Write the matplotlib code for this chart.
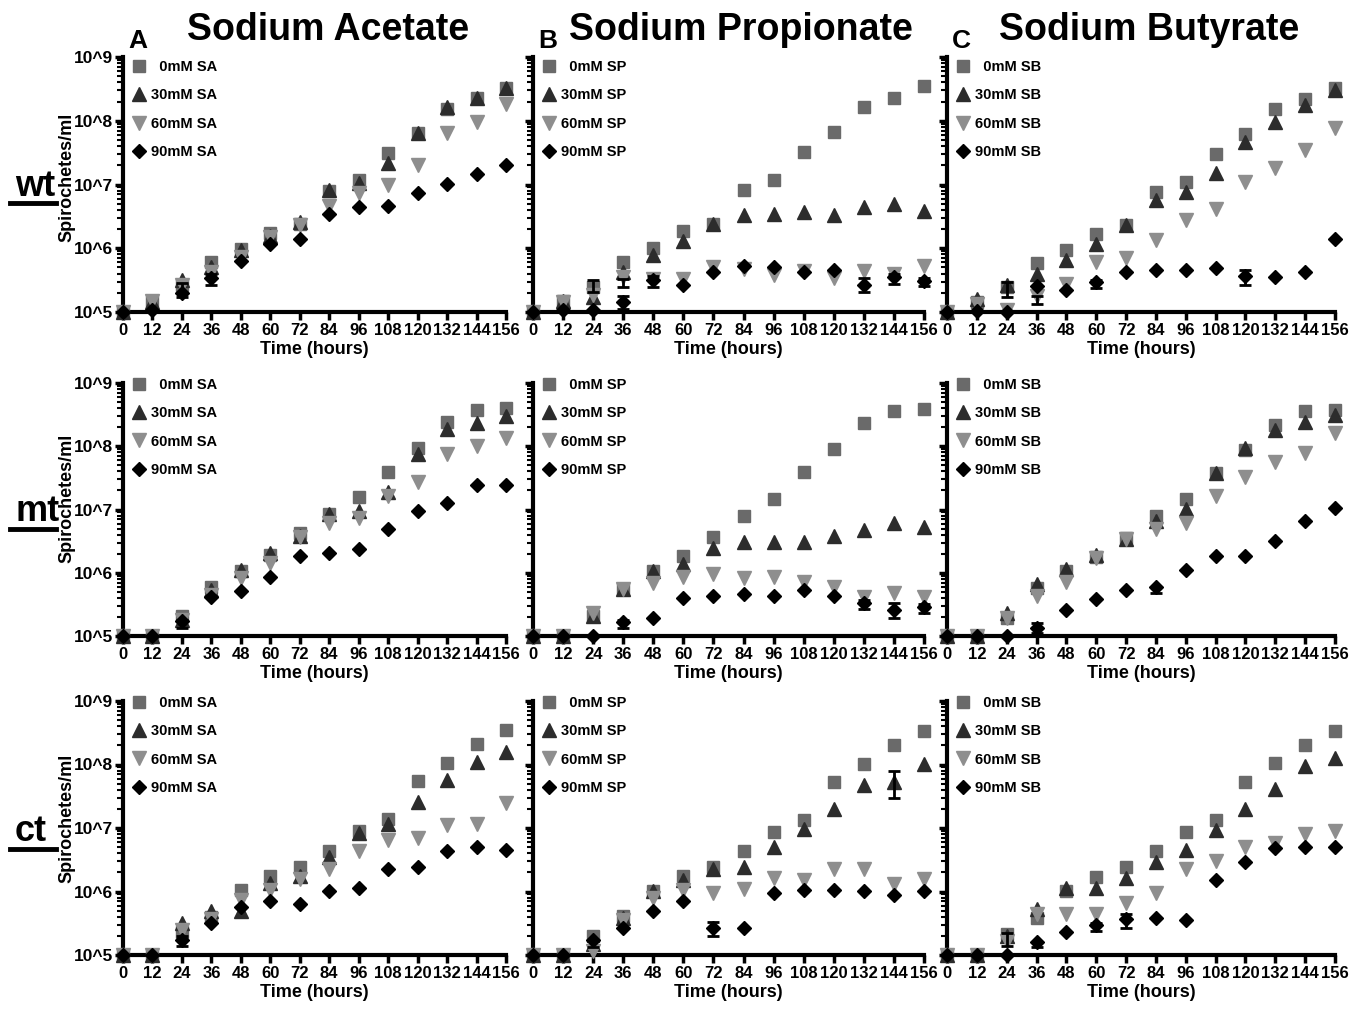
import matplotlib
matplotlib.use('Agg')
import numpy as np
import matplotlib.pyplot as plt
from matplotlib.ticker import LogLocator, NullFormatter
from matplotlib.lines import Line2D

plt.rcParams['font.family'] = ['Liberation Sans', 'DejaVu Sans']
plt.rcParams['font.weight'] = 'bold'

# time points (hours)
hours = [0, 12, 24, 36, 48, 60, 72, 84, 96, 108, 120, 132, 144, 156]
doses = ['  0mM', '30mM', '60mM', '90mM']
salts = ['SA', 'SP', 'SB']
titles = ['Sodium Acetate', 'Sodium Propionate', 'Sodium Butyrate']
strains = ['wt', 'mt', 'ct']
letters = ['A', 'B', 'C']
ytick_vals = [1e5, 1e6, 1e7, 1e8, 1e9]
ytick_labels = ['10^5', '10^6', '10^7', '10^8', '10^9']

# log10(spirochetes/ml), rows = 0, 30, 60, 90 mM
wt_SA = [
    [5.0, 5.16, 5.42, 5.78, 5.99, 6.24, 6.38, 6.90, 7.07, 7.49, 7.81, 8.19, 8.35, 8.52],
    [5.0, 5.16, 5.50, 5.71, 5.97, 6.20, 6.41, 6.91, 7.02, 7.33, 7.81, 8.21, 8.36, 8.52],
    [5.0, 5.18, 5.42, 5.63, 5.86, 6.18, 6.36, 6.67, 6.87, 7.00, 7.31, 7.81, 7.98, 8.26],
    [5.0, 5.03, 5.30, 5.53, 5.80, 6.06, 6.15, 6.54, 6.64, 6.67, 6.87, 7.01, 7.16, 7.30],
]
wt_SP = [
    [5.0, 5.18, 5.40, 5.79, 6.01, 6.27, 6.38, 6.91, 7.07, 7.51, 7.82, 8.22, 8.36, 8.54],
    [5.0, 5.18, 5.24, 5.63, 5.90, 6.11, 6.38, 6.52, 6.53, 6.57, 6.52, 6.64, 6.69, 6.58],
    [5.0, 5.16, 5.26, 5.55, 5.52, 5.52, 5.71, 5.68, 5.58, 5.65, 5.54, 5.65, 5.59, 5.72],
    [5.0, 5.03, 5.03, 5.16, 5.50, 5.43, 5.63, 5.72, 5.70, 5.63, 5.66, 5.43, 5.55, 5.49],
]
wt_SB = [
    [5.0, 5.16, 5.40, 5.77, 5.98, 6.23, 6.36, 6.88, 7.04, 7.48, 7.80, 8.19, 8.34, 8.51],
    [5.0, 5.21, 5.42, 5.60, 5.82, 6.07, 6.36, 6.75, 6.89, 7.18, 7.67, 7.98, 8.24, 8.48],
    [5.0, 5.13, 5.03, 5.25, 5.44, 5.78, 5.84, 6.13, 6.44, 6.61, 7.04, 7.26, 7.54, 7.88],
    [5.0, 5.02, 5.00, 5.41, 5.35, 5.47, 5.63, 5.66, 5.66, 5.69, 5.56, 5.55, 5.63, 6.14],
]
mt_SA = [
    [5.0, 5.0, 5.32, 5.77, 6.03, 6.28, 6.63, 6.93, 7.20, 7.60, 7.97, 8.38, 8.57, 8.60],
    [5.0, 5.0, 5.26, 5.73, 6.04, 6.31, 6.58, 6.93, 6.97, 7.27, 7.87, 8.27, 8.37, 8.48],
    [5.0, 5.0, 5.25, 5.65, 5.91, 6.15, 6.57, 6.78, 6.86, 7.21, 7.44, 7.88, 8.01, 8.13],
    [5.0, 5.0, 5.23, 5.61, 5.71, 5.94, 6.26, 6.31, 6.37, 6.69, 6.97, 7.10, 7.39, 7.39],
]
mt_SP = [
    [5.0, 5.0, 5.31, 5.75, 6.02, 6.26, 6.57, 6.90, 7.16, 7.59, 7.96, 8.36, 8.55, 8.59],
    [5.0, 5.0, 5.31, 5.75, 6.03, 6.14, 6.39, 6.49, 6.49, 6.49, 6.58, 6.68, 6.78, 6.73],
    [5.0, 5.0, 5.37, 5.74, 5.84, 5.93, 5.98, 5.91, 5.93, 5.86, 5.77, 5.62, 5.68, 5.62],
    [5.0, 5.0, 5.00, 5.22, 5.29, 5.60, 5.63, 5.66, 5.63, 5.72, 5.63, 5.52, 5.41, 5.46],
]
mt_SB = [
    [5.0, 5.0, 5.29, 5.76, 6.02, 6.25, 6.55, 6.89, 7.16, 7.58, 7.94, 8.33, 8.55, 8.58],
    [5.0, 5.0, 5.36, 5.82, 6.06, 6.28, 6.54, 6.82, 7.01, 7.57, 7.97, 8.26, 8.39, 8.49],
    [5.0, 5.0, 5.29, 5.63, 5.85, 6.24, 6.53, 6.69, 6.79, 7.22, 7.52, 7.75, 7.90, 8.21],
    [5.0, 5.0, 5.00, 5.12, 5.41, 5.59, 5.72, 5.78, 6.04, 6.26, 6.27, 6.50, 6.82, 7.02],
]
ct_SA = [
    [5.0, 5.0, 5.37, 5.60, 6.02, 6.24, 6.39, 6.63, 6.96, 7.14, 7.74, 8.03, 8.33, 8.54],
    [5.0, 5.0, 5.50, 5.69, 5.69, 6.14, 6.24, 6.54, 6.92, 7.07, 7.41, 7.75, 8.04, 8.20],
    [5.0, 5.0, 5.39, 5.57, 5.87, 6.03, 6.19, 6.35, 6.64, 6.81, 6.84, 7.04, 7.06, 7.40],
    [5.0, 5.0, 5.24, 5.51, 5.76, 5.85, 5.81, 6.01, 6.05, 6.35, 6.38, 6.64, 6.70, 6.66],
]
ct_SP = [
    [5.0, 5.0, 5.30, 5.62, 6.01, 6.24, 6.39, 6.64, 6.94, 7.13, 7.72, 8.01, 8.31, 8.52],
    [5.0, 5.0, 5.18, 5.58, 6.01, 6.18, 6.36, 6.39, 6.70, 6.99, 7.30, 7.67, 7.72, 8.01],
    [5.0, 5.0, 5.06, 5.55, 5.89, 6.02, 5.98, 6.04, 6.22, 6.18, 6.36, 6.35, 6.12, 6.20],
    [5.0, 5.0, 5.24, 5.42, 5.70, 5.85, 5.42, 5.43, 5.98, 6.02, 6.03, 6.01, 5.94, 6.01],
]
ct_SB = [
    [5.0, 5.0, 5.33, 5.58, 6.01, 6.23, 6.38, 6.64, 6.94, 7.13, 7.73, 8.02, 8.31, 8.52],
    [5.0, 5.0, 5.30, 5.73, 6.05, 6.06, 6.22, 6.46, 6.65, 6.97, 7.30, 7.62, 7.98, 8.10],
    [5.0, 5.0, 5.22, 5.64, 5.64, 5.64, 5.82, 5.98, 6.36, 6.48, 6.70, 6.76, 6.90, 6.95],
    [5.0, 5.0, 5.00, 5.21, 5.36, 5.47, 5.57, 5.59, 5.55, 6.18, 6.47, 6.68, 6.70, 6.70],
]

# visible error bars: (hour, log10 low, log10 high)
err_wt_SA = [(24, 5.24, 5.45), (36, 5.42, 5.60)]
err_wt_SP = [(24, 5.32, 5.50), (36, 5.40, 5.52), (36, 5.05, 5.25), (48, 5.40, 5.56),
             (132, 5.31, 5.54), (144, 5.44, 5.59), (156, 5.41, 5.53)]
err_wt_SB = [(24, 5.24, 5.47), (36, 5.12, 5.25), (60, 5.38, 5.50), (120, 5.43, 5.66)]
err_mt_SA = [(24, 5.13, 5.25)]
err_mt_SP = [(36, 5.12, 5.25), (132, 5.42, 5.57), (144, 5.29, 5.52), (156, 5.37, 5.50)]
err_mt_SB = [(36, 5.05, 5.21), (84, 5.68, 5.78)]
err_ct_SA = [(24, 5.14, 5.30)]
err_ct_SP = [(24, 5.13, 5.22), (72, 5.30, 5.52), (144, 7.47, 7.89)]
err_ct_SB = [(24, 5.14, 5.35), (36, 5.12, 5.21), (60, 5.38, 5.50), (72, 5.43, 5.65)]

data = [[wt_SA, wt_SP, wt_SB], [mt_SA, mt_SP, mt_SB], [ct_SA, ct_SP, ct_SB]]
errs = [[err_wt_SA, err_wt_SP, err_wt_SB], [err_mt_SA, err_mt_SP, err_mt_SB],
        [err_ct_SA, err_ct_SP, err_ct_SB]]

markers = ['s', '^', 'v', 'D']
colors = ['#6a6a6a', '#2c2c2c', '#8e8e8e', '#000000']
msizes = [8.5, 9.5, 9.5, 7]

W, H = 1365, 1009
fig = plt.figure(figsize=(W / 100, H / 100), dpi=100)

col_left = [123, 533, 947]
col_right = [506, 924, 1335]
row_top = [57, 383, 701]
row_bot = [312, 636, 955]
title_x = [328, 741, 1149]
legend_top = [0.988, 1.02, 1.02]

for r in range(3):
    for c in range(3):
        l, rr, t, b = col_left[c], col_right[c], row_top[r], row_bot[r]
        ax = fig.add_axes([l / W, 1 - b / H, (rr - l) / W, (b - t) / H])
        ax.set_yscale('log')
        handles = []
        for k in range(4):
            vals = 10 ** np.array(data[r][c][k])
            h, = ax.plot(hours, vals, ls='none', marker=markers[k], ms=msizes[k],
                         color=colors[k], mec=colors[k], clip_on=False, zorder=3 + k)
            handles.append(h)
        for (hx, lo, hi) in errs[r][c]:
            ax.vlines(hx, 10 ** lo, 10 ** hi, color='black', lw=2, zorder=8, clip_on=False)
            ax.hlines([10 ** lo, 10 ** hi], hx - 2.4, hx + 2.4, color='black', lw=2,
                      zorder=8, clip_on=False)
        ax.set_xlim(0, 156)
        ax.set_ylim(1e5, 1e9)
        for s in ['top', 'right']:
            ax.spines[s].set_visible(False)
        for s in ['left', 'bottom']:
            ax.spines[s].set_linewidth(3)
        ax.set_xticks(hours)
        ax.set_xticklabels([str(x) for x in hours])
        ax.tick_params(axis='x', direction='out', length=6, width=2.5, pad=2, labelsize=12)
        ax.yaxis.set_minor_locator(LogLocator(base=10, subs=range(2, 10), numticks=20))
        ax.yaxis.set_minor_formatter(NullFormatter())
        ax.set_yticks(ytick_vals)
        if c == 0:
            ax.set_yticklabels(ytick_labels)
        else:
            ax.set_yticklabels([])
        ax.tick_params(axis='y', which='major', direction='out', length=6, width=2.5,
                       pad=1, labelsize=12.5)
        ax.tick_params(axis='y', which='minor', direction='out', length=4, width=1.5)
        ax.set_xlabel('Time (hours)', fontsize=13, fontweight='bold', labelpad=2)
        labels = [d + ' ' + salts[c] for d in doses]
        ax.legend(handles, labels, loc='upper left', bbox_to_anchor=(0.022, legend_top[r]),
                  frameon=False, borderpad=0, borderaxespad=0, handlelength=1.0,
                  handletextpad=0.35, labelspacing=0.98, numpoints=1,
                  prop={'size': 10.5, 'weight': 'bold'})
        if r == 0:
            fig.text((l + 5) / W, 1 - 48 / H, letters[c], fontsize=19, fontweight='bold',
                     ha='left', va='baseline')

for c in range(3):
    fig.text(title_x[c] / W, 1 - 40 / H, titles[c], fontsize=27, fontweight='bold',
             ha='center', va='baseline')

ylab_y = [177, 498, 818]
name_base = [196, 521, 841]
under_y = [203, 529, 849]
for r in range(3):
    fig.text(67 / W, 1 - ylab_y[r] / H, 'Spirochetes/ml', rotation=90, fontsize=13,
             fontweight='bold', ha='center', va='center')
    fig.text(15 / W, 1 - name_base[r] / H, strains[r], fontsize=26, fontweight='bold',
             ha='left', va='baseline')
    fig.add_artist(Line2D([10 / W, 56 / W], [1 - under_y[r] / H] * 2, lw=3.5,
                          color='black', transform=fig.transFigure))

fig.savefig('out.png', dpi=100)
